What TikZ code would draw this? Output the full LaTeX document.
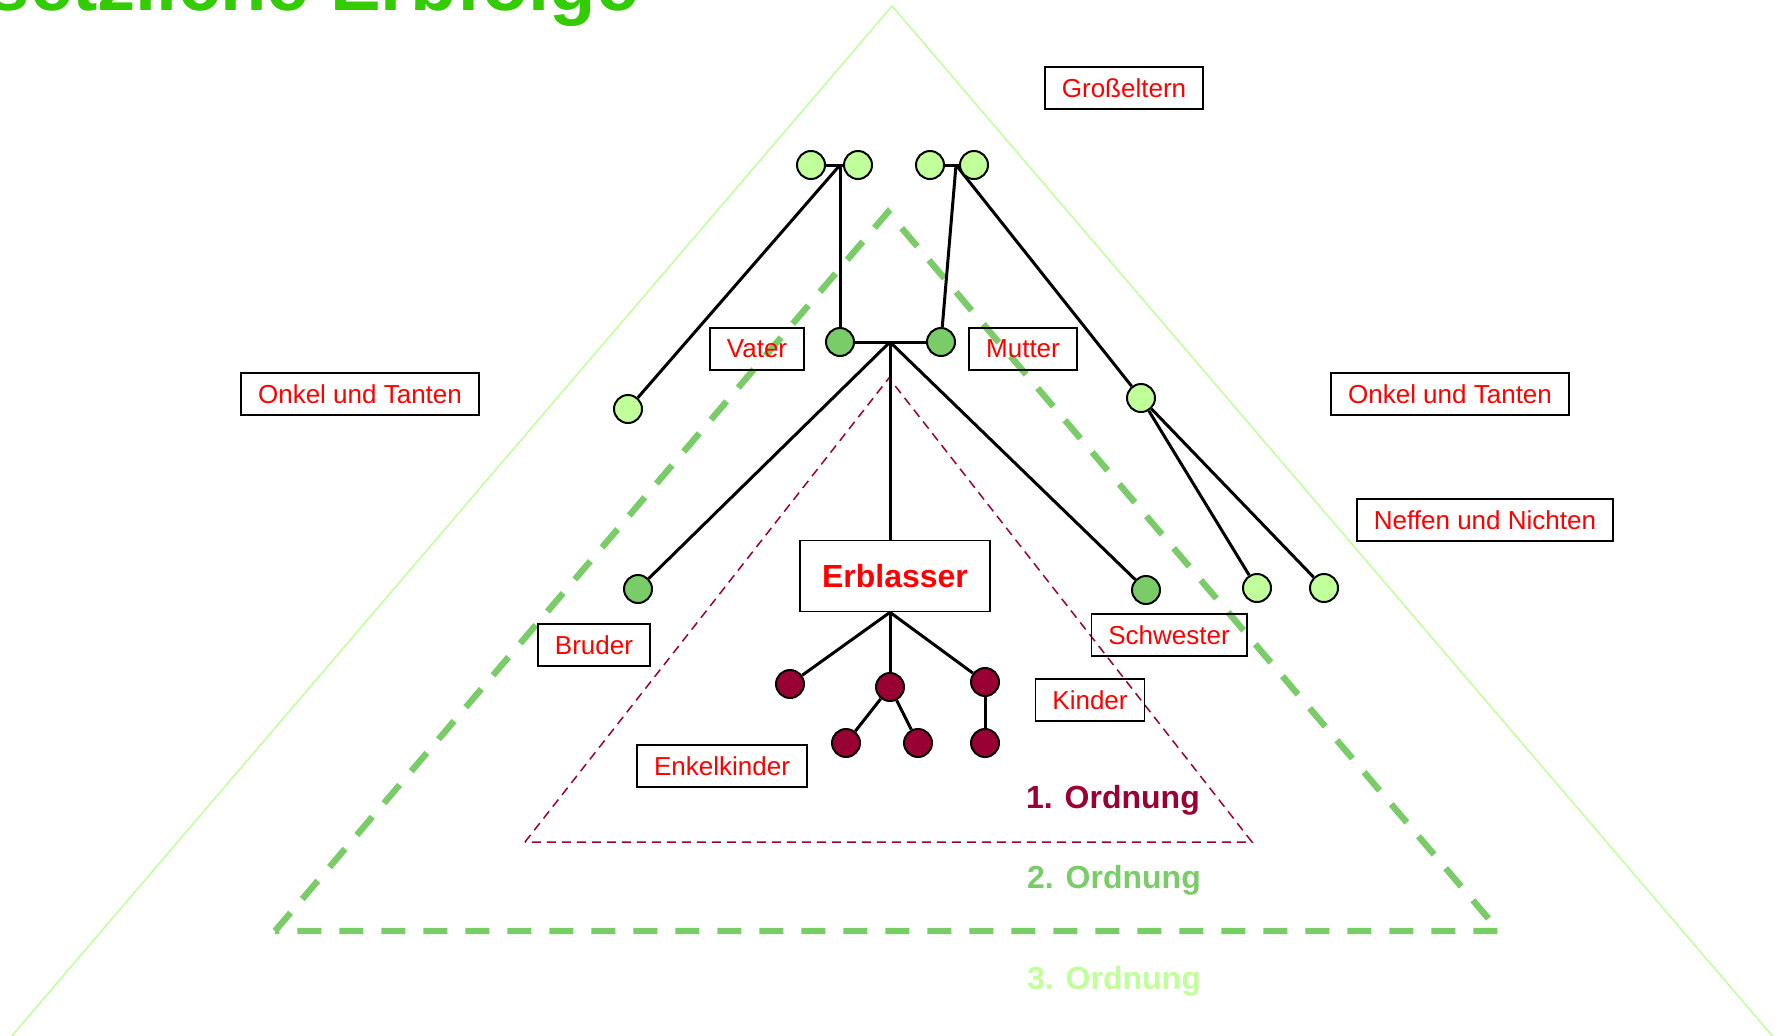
\documentclass[tikz,border=0pt]{standalone}
\usepackage{fontspec}
\setmainfont{Liberation Sans}
\usepackage{tikz}
\usepackage{xcolor}
\usetikzlibrary{backgrounds}

\definecolor{hellgruen}{RGB}{192,255,153}
\definecolor{mittelgruen}{RGB}{122,204,104}
\definecolor{dunkelrot}{RGB}{153,0,51}
\definecolor{titelgruen}{RGB}{51,204,0}

\begin{document}
\begin{tikzpicture}[x=0.5pt, y=-0.5pt, semithick]
    \tikzstyle{pers}=[circle,draw=black,line width=1pt,minimum size=14pt,inner sep=0pt]
    \tikzstyle{p1}=[pers,fill=dunkelrot]
    \tikzstyle{p2}=[pers,fill=mittelgruen]
    \tikzstyle{p3}=[pers,fill=hellgruen]
    \tikzstyle{lbl}=[draw=black,line width=0.8pt,text=red,font=\fontsize{13pt}{15pt}\selectfont,inner xsep=8.5pt,minimum height=21pt]
    \tikzstyle{ordn}=[anchor=base,font=\fontsize{16pt}{18pt}\selectfont\bfseries]
    \tikzstyle{verb}=[draw=black,line width=1.5pt]
    \useasboundingbox (0,0) rectangle (1781,1035);
    \clip (0,0) rectangle (1781,1035);

    % Titel (oben abgeschnitten)
    \node[anchor=base west,inner sep=0pt,text=titelgruen,font=\fontsize{38pt}{40pt}\selectfont\bfseries]
        (titel) at (-114,10) {Gesetzliche Erbfolge};

    % Grosseltern
    \node[p3]    (gp1) at (811,165)                        {};
    \node[p3]    (gp2) [right of=gp1, node distance=23.5pt] {};
    \node[p3]    (gp3) at (930,165)                        {};
    \node[p3]    (gp4) [right of=gp3, node distance=22pt]   {};
    \coordinate  (gv) at (840,165);
    \coordinate  (gm) at (956,165);
    % Eltern
    \node[p2]    (vater)  at (840,342) {};
    \node[p2]    (mutter) at (941,342) {};
    \coordinate  (el) at (890,342);
    % Onkel und Tanten
    \node[p3]    (onkl) at (628,409)  {};
    \node[p3]    (onkr) at (1141,398) {};
    % Geschwister
    \node[p2]    (bruder)    at (638,589)  {};
    \node[p2]    (schwester) at (1146,590) {};
    % Neffen und Nichten
    \node[p3]    (nef1) at (1257,588)                        {};
    \node[p3]    (nef2) [right of=nef1, node distance=33.5pt] {};
    % Erblasser, Kinder, Enkel
    \node[draw=black,line width=0.8pt,text=red,font=\fontsize{16pt}{18pt}\selectfont\bfseries,
          minimum width=95pt,minimum height=35.5pt]
                 (erbl) at (895,576) {Erblasser};
    \node[p1]    (k1) at (790,684) {};
    \node[p1]    (k2) at (890,687) {};
    \node[p1]    (k3) at (985,682) {};
    \node[p1]    (e1) at (846,743)                        {};
    \node[p1]    (e2) [right of=e1, node distance=36pt]   {};
    \node[p1]    (e3) at (985,743)                        {};

    % Beschriftungen
    \node[lbl]   (l_gross)  at (1124,88)  {Großeltern};
    \node[lbl]   (l_onkl)   at (360,394)  {Onkel und Tanten};
    \node[lbl]   (l_onkr)   at (1450,394) {Onkel und Tanten};
    \node[lbl]   (l_vater)  at (757,349)  {Vater};
    \node[lbl]   (l_mutter) at (1023,349) {Mutter};
    \node[lbl]   (l_neffen) at (1485,520) {Neffen und Nichten};
    \node[lbl]   (l_bruder) at (594,645)  {Bruder};
    \node[lbl]   (l_schw)   at (1169,635) {Schwester};
    \node[lbl]   (l_kinder) at (1090,700) {Kinder};
    \node[lbl]   (l_enkel)  at (722,766)  {Enkelkinder};

    \node[ordn,text=dunkelrot]   (o1) at (1113,808) {1. Ordnung};
    \node[ordn,text=mittelgruen] (o2) at (1114,888) {2. Ordnung};
    \node[ordn,text=hellgruen]   (o3) at (1114,989) {3. Ordnung};

    \begin{scope}[on background layer]
    % Ordnungen
    \draw[hellgruen,line width=0.75pt] (-43,1100) -- (892,6) -- (1827,1100);
    \draw[mittelgruen,line width=3.2pt,dash pattern=on 12pt off 9pt] (275,931) -- (888,212) -- (1499,931) -- cycle;
    \draw[dunkelrot,line width=0.75pt,dash pattern=on 4.5pt off 3pt] (525,842) -- (889,378) -- (1252,842) -- cycle;
    \path[verb]
    (gp1)
      edge (gp2)
    (gp3)
      edge (gp4)
    (gv)
      edge (vater)
      edge (onkl)
    (gm)
      edge (mutter)
      edge (onkr)
    (vater)
      edge (mutter)
    (el)
      edge (el |- erbl.north)
      edge (bruder)
      edge (schwester)
    (onkr)
      edge (nef1)
      edge (nef2)
    (erbl.south -| el)
      edge (k1)
      edge (k2)
      edge (k3)
    (k2)
      edge (e1)
      edge (e2)
    (k3)
      edge (e3);
    \end{scope}
\end{tikzpicture}
\end{document}
